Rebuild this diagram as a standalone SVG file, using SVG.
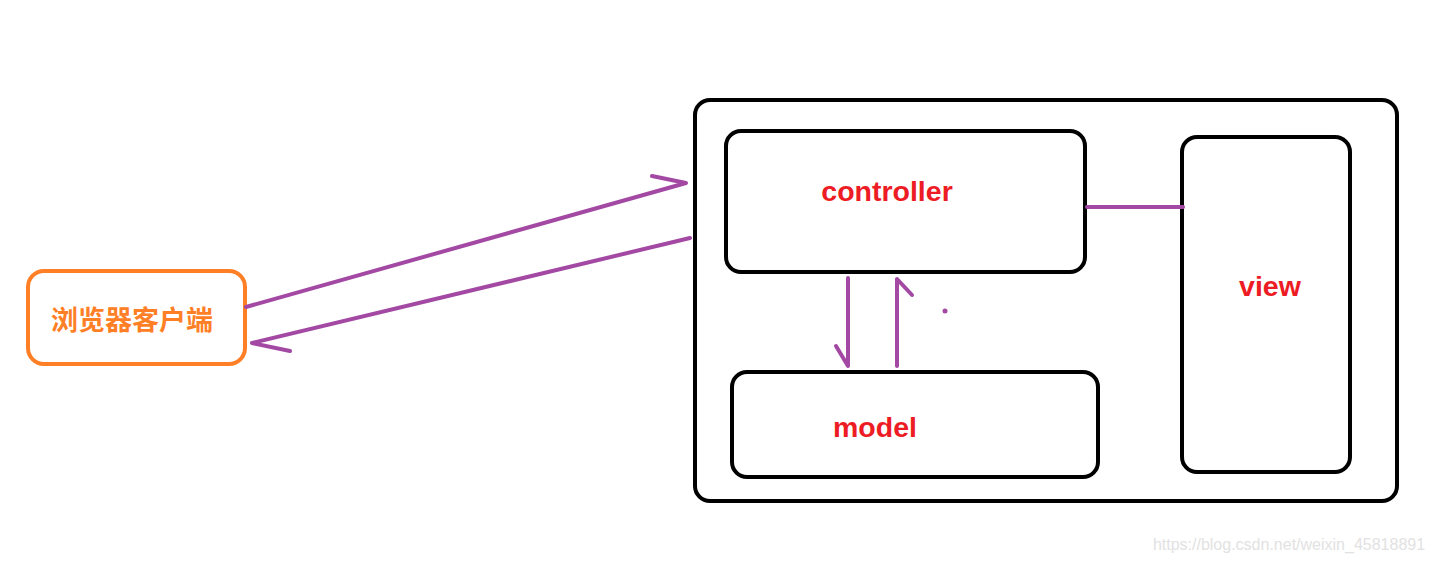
<svg xmlns="http://www.w3.org/2000/svg" width="1432" height="562" viewBox="0 0 1432 562">
<style>
.box{fill:none;stroke:#000;stroke-width:4}
.lbl{font-family:"Liberation Sans","Noto Sans CJK SC",sans-serif;font-weight:bold;font-size:28.5px;fill:#ED1C24;text-anchor:middle}
.pl{fill:none;stroke:#A349A4;stroke-width:4;stroke-linecap:round;stroke-linejoin:round}
</style>
<rect width="1432" height="562" fill="#fff"/>
<g id="container"><rect class="box" x="695" y="100" width="702" height="401" rx="15"/></g>
<g id="browser">
<rect x="28" y="271" width="217" height="93" rx="16" fill="none" stroke="#FF7F27" stroke-width="4"/>
<text x="132" y="330" font-family="'Noto Sans CJK SC',sans-serif" font-weight="bold" font-size="27" fill="#FF7F27" text-anchor="middle">浏览器客户端</text>
</g>
<g id="controller"><rect class="box" x="726" y="131" width="359" height="141" rx="15"/><text class="lbl" x="887" y="201">controller</text></g>
<g id="model"><rect class="box" x="732" y="372" width="366" height="105" rx="15"/><text class="lbl" x="875" y="437">model</text></g>
<g id="view"><rect class="box" x="1182" y="137" width="168" height="335" rx="15"/><text class="lbl" x="1270" y="296">view</text></g>
<g id="connectors">
<path class="pl" d="M246 307 L686 183 L652 176"/>
<path class="pl" d="M690 238 L252 343 L290 351"/>
<path class="pl" d="M848 278 L848 366 L836 346"/>
<path class="pl" d="M897 366 L897 279 L912 295"/>
<path class="pl" d="M1087 207 L1183 207"/>
<circle cx="945" cy="311" r="2.5" fill="#A349A4"/>
</g>
<text x="1289" y="550" font-family="'Liberation Sans',sans-serif" font-size="16" fill="#e2e2e2" text-anchor="middle">https://blog.csdn.net/weixin_45818891</text>
</svg>
